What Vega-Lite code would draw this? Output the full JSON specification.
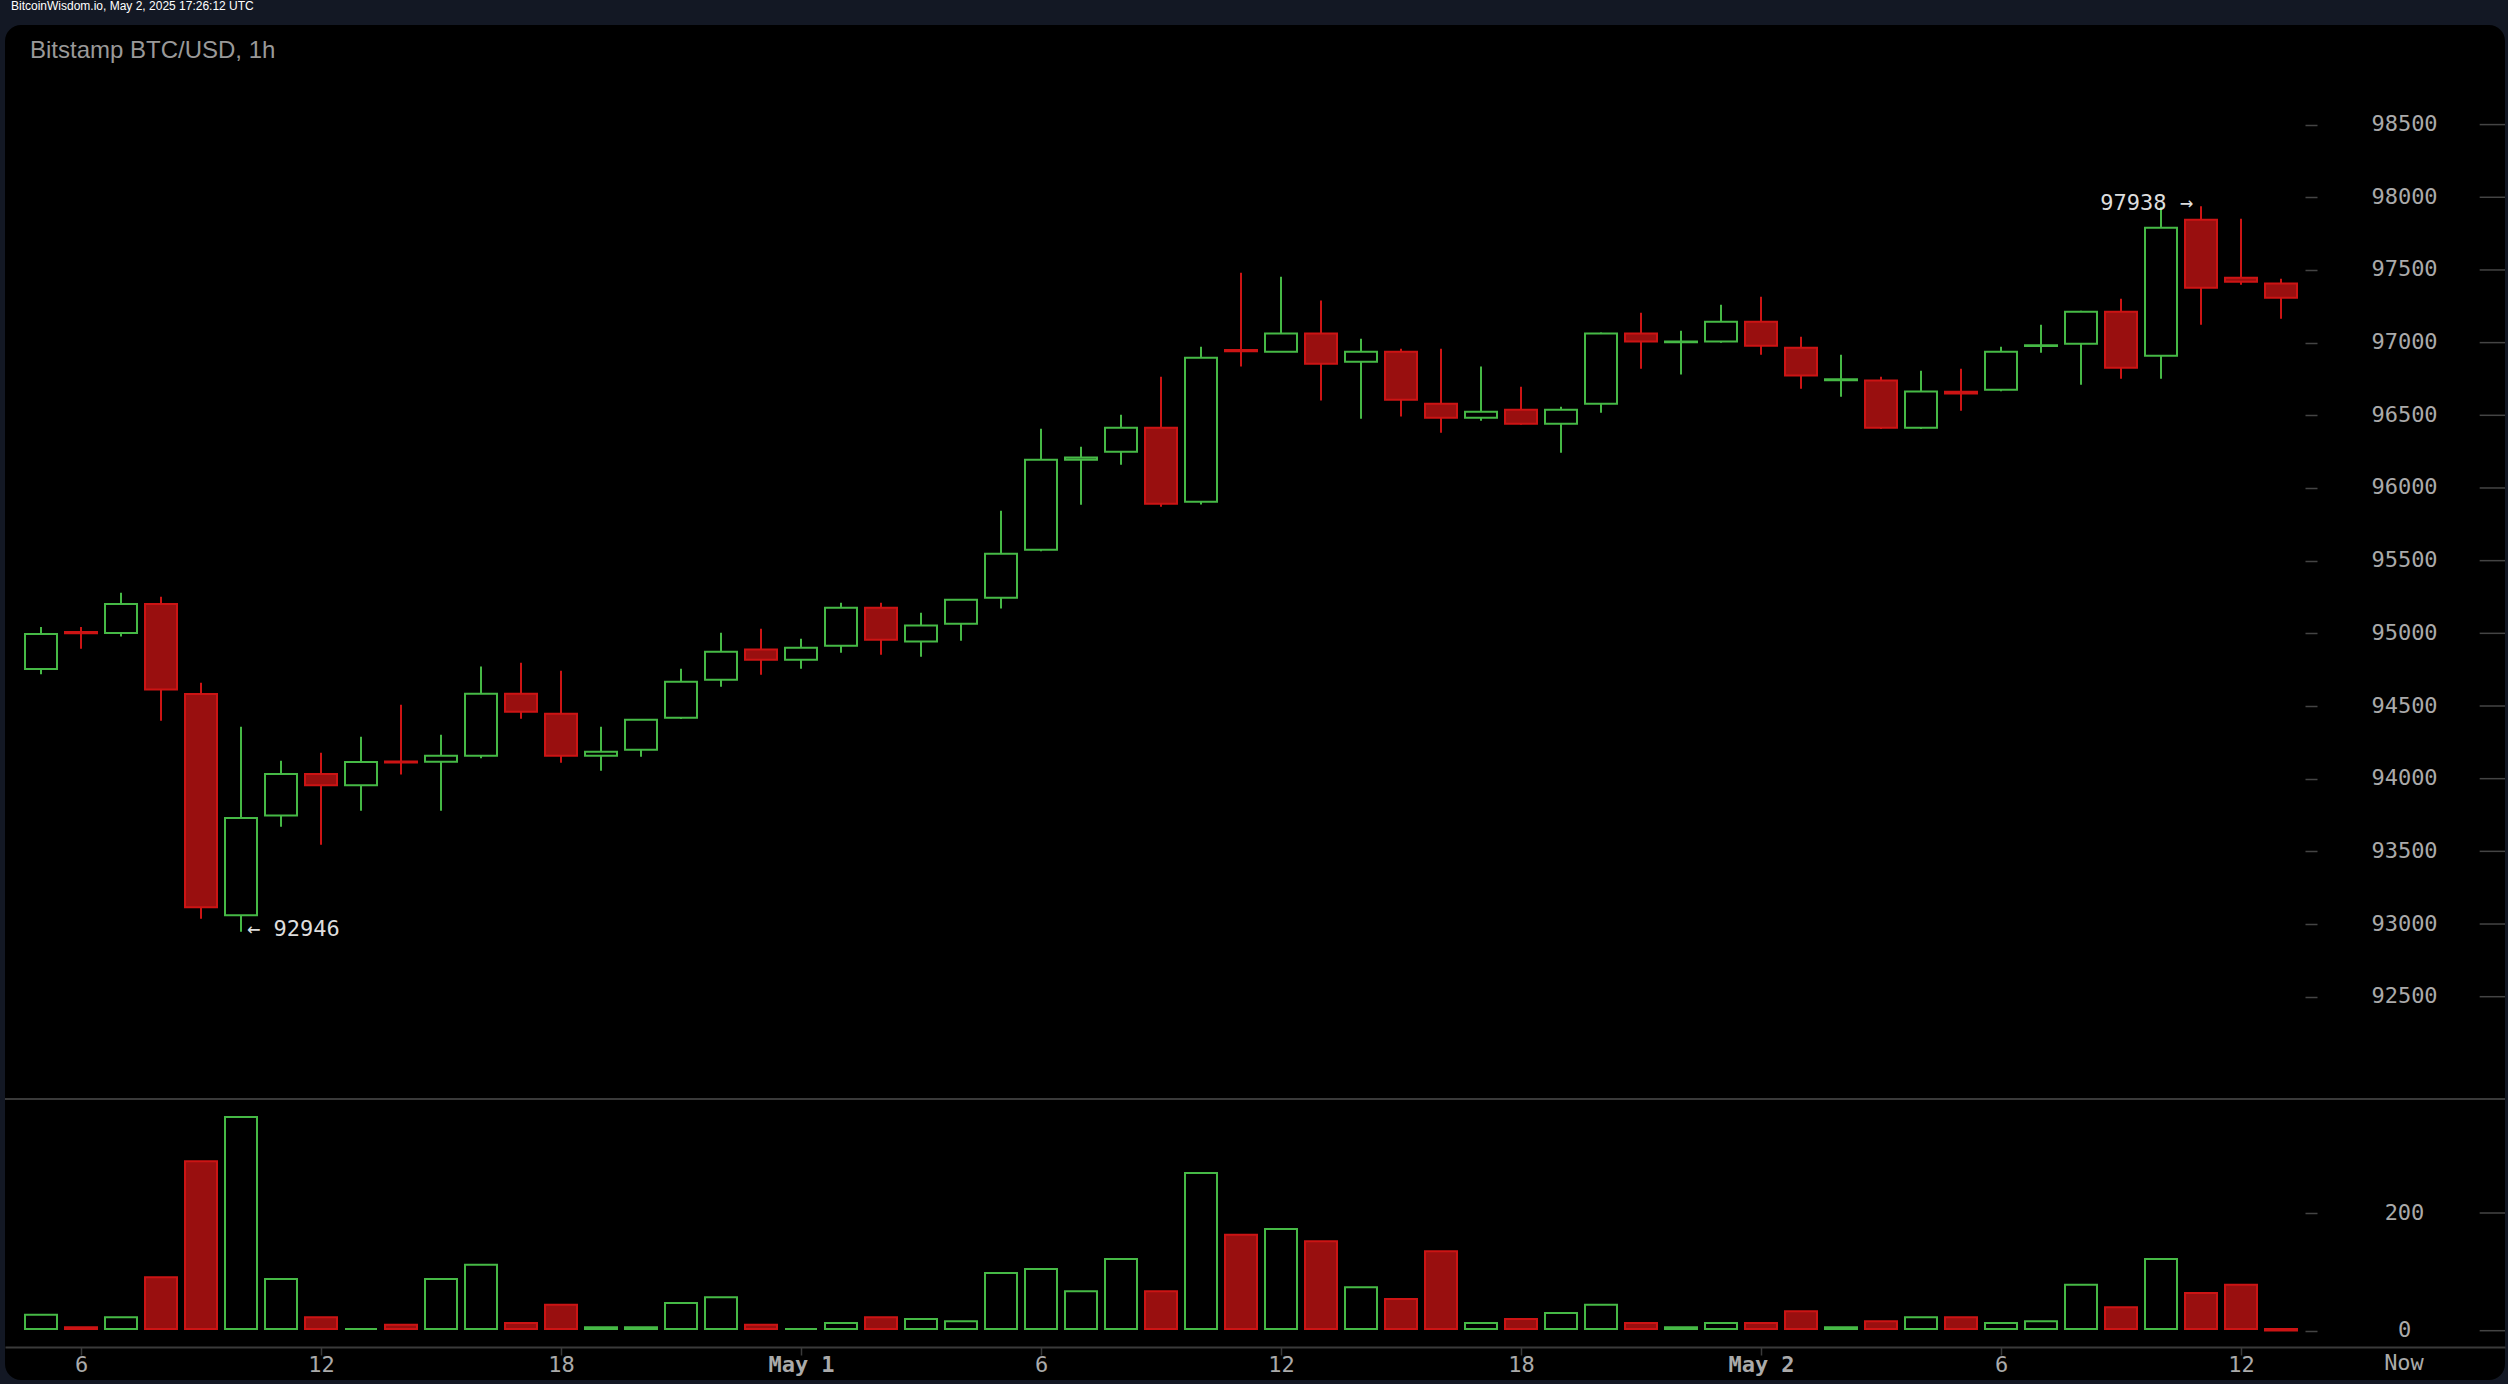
{
  "$schema": "https://vega.github.io/schema/vega-lite/v6.json",
  "width": 2500,
  "height": 1355,
  "padding": {"left": 4, "right": 4, "top": 0, "bottom": 4},
  "background": "#131824",
  "title": {
    "text": "BitcoinWisdom.io, May 2, 2025 17:26:12 UTC",
    "anchor": "start",
    "frame": "group",
    "font": "Liberation Sans",
    "fontSize": 12,
    "fontWeight": "normal",
    "color": "#ffffff",
    "dx": 6,
    "offset": 12
  },
  "view": {"fill": "#000000", "stroke": null, "cornerRadius": 16},
  "config": {"font": "DejaVu Sans Mono"},
  "datasets": {
    "candles": [
      {"t": "2025-04-30T05:00:00Z", "open": 94755, "high": 95044, "low": 94718, "close": 94996, "volume": 27, "dir": "up"},
      {"t": "2025-04-30T06:00:00Z", "open": 95009, "high": 95044, "low": 94894, "close": 95000, "volume": 6, "dir": "down"},
      {"t": "2025-04-30T07:00:00Z", "open": 95002, "high": 95280, "low": 94979, "close": 95202, "volume": 23, "dir": "up"},
      {"t": "2025-04-30T08:00:00Z", "open": 95202, "high": 95252, "low": 94399, "close": 94614, "volume": 91, "dir": "down"},
      {"t": "2025-04-30T09:00:00Z", "open": 94583, "high": 94660, "low": 93037, "close": 93115, "volume": 288, "dir": "down"},
      {"t": "2025-04-30T10:00:00Z", "open": 93060, "high": 94358, "low": 92946, "close": 93730, "volume": 363, "dir": "up"},
      {"t": "2025-04-30T11:00:00Z", "open": 93747, "high": 94124, "low": 93670, "close": 94032, "volume": 88, "dir": "up"},
      {"t": "2025-04-30T12:00:00Z", "open": 94032, "high": 94179, "low": 93546, "close": 93954, "volume": 23, "dir": "down"},
      {"t": "2025-04-30T13:00:00Z", "open": 93954, "high": 94289, "low": 93780, "close": 94115, "volume": 3, "dir": "up"},
      {"t": "2025-04-30T14:00:00Z", "open": 94118, "high": 94509, "low": 94028, "close": 94112, "volume": 10, "dir": "down"},
      {"t": "2025-04-30T15:00:00Z", "open": 94117, "high": 94303, "low": 93780, "close": 94158, "volume": 88, "dir": "up"},
      {"t": "2025-04-30T16:00:00Z", "open": 94158, "high": 94771, "low": 94140, "close": 94585, "volume": 112, "dir": "up"},
      {"t": "2025-04-30T17:00:00Z", "open": 94585, "high": 94798, "low": 94413, "close": 94461, "volume": 13, "dir": "down"},
      {"t": "2025-04-30T18:00:00Z", "open": 94447, "high": 94743, "low": 94110, "close": 94158, "volume": 44, "dir": "down"},
      {"t": "2025-04-30T19:00:00Z", "open": 94158, "high": 94358, "low": 94055, "close": 94186, "volume": 6, "dir": "up"},
      {"t": "2025-04-30T20:00:00Z", "open": 94199, "high": 94410, "low": 94151, "close": 94406, "volume": 6, "dir": "up"},
      {"t": "2025-04-30T21:00:00Z", "open": 94420, "high": 94757, "low": 94410, "close": 94667, "volume": 47, "dir": "up"},
      {"t": "2025-04-30T22:00:00Z", "open": 94681, "high": 95004, "low": 94633, "close": 94874, "volume": 57, "dir": "up"},
      {"t": "2025-04-30T23:00:00Z", "open": 94888, "high": 95032, "low": 94715, "close": 94819, "volume": 10, "dir": "down"},
      {"t": "2025-05-01T00:00:00Z", "open": 94819, "high": 94963, "low": 94757, "close": 94901, "volume": 3, "dir": "up"},
      {"t": "2025-05-01T01:00:00Z", "open": 94915, "high": 95211, "low": 94867, "close": 95176, "volume": 13, "dir": "up"},
      {"t": "2025-05-01T02:00:00Z", "open": 95176, "high": 95211, "low": 94853, "close": 94956, "volume": 23, "dir": "down"},
      {"t": "2025-05-01T03:00:00Z", "open": 94943, "high": 95142, "low": 94839, "close": 95053, "volume": 20, "dir": "up"},
      {"t": "2025-05-01T04:00:00Z", "open": 95066, "high": 95235, "low": 94949, "close": 95231, "volume": 16, "dir": "up"},
      {"t": "2025-05-01T05:00:00Z", "open": 95245, "high": 95844, "low": 95170, "close": 95548, "volume": 98, "dir": "up"},
      {"t": "2025-05-01T06:00:00Z", "open": 95575, "high": 96408, "low": 95565, "close": 96195, "volume": 105, "dir": "up"},
      {"t": "2025-05-01T07:00:00Z", "open": 96195, "high": 96284, "low": 95885, "close": 96209, "volume": 67, "dir": "up"},
      {"t": "2025-05-01T08:00:00Z", "open": 96250, "high": 96504, "low": 96160, "close": 96415, "volume": 122, "dir": "up"},
      {"t": "2025-05-01T09:00:00Z", "open": 96415, "high": 96766, "low": 95871, "close": 95892, "volume": 67, "dir": "down"},
      {"t": "2025-05-01T10:00:00Z", "open": 95906, "high": 96972, "low": 95886, "close": 96896, "volume": 268, "dir": "up"},
      {"t": "2025-05-01T11:00:00Z", "open": 96950, "high": 97481, "low": 96835, "close": 96940, "volume": 163, "dir": "down"},
      {"t": "2025-05-01T12:00:00Z", "open": 96938, "high": 97454, "low": 96935, "close": 97062, "volume": 173, "dir": "up"},
      {"t": "2025-05-01T13:00:00Z", "open": 97062, "high": 97289, "low": 96601, "close": 96855, "volume": 152, "dir": "down"},
      {"t": "2025-05-01T14:00:00Z", "open": 96869, "high": 97027, "low": 96477, "close": 96938, "volume": 74, "dir": "up"},
      {"t": "2025-05-01T15:00:00Z", "open": 96938, "high": 96958, "low": 96491, "close": 96607, "volume": 54, "dir": "down"},
      {"t": "2025-05-01T16:00:00Z", "open": 96580, "high": 96958, "low": 96380, "close": 96484, "volume": 135, "dir": "down"},
      {"t": "2025-05-01T17:00:00Z", "open": 96484, "high": 96835, "low": 96463, "close": 96525, "volume": 13, "dir": "up"},
      {"t": "2025-05-01T18:00:00Z", "open": 96539, "high": 96697, "low": 96435, "close": 96442, "volume": 20, "dir": "down"},
      {"t": "2025-05-01T19:00:00Z", "open": 96442, "high": 96559, "low": 96243, "close": 96539, "volume": 30, "dir": "up"},
      {"t": "2025-05-01T20:00:00Z", "open": 96580, "high": 97070, "low": 96518, "close": 97062, "volume": 44, "dir": "up"},
      {"t": "2025-05-01T21:00:00Z", "open": 97062, "high": 97206, "low": 96821, "close": 97007, "volume": 13, "dir": "down"},
      {"t": "2025-05-01T22:00:00Z", "open": 97003, "high": 97082, "low": 96780, "close": 97007, "volume": 6, "dir": "up"},
      {"t": "2025-05-01T23:00:00Z", "open": 97007, "high": 97261, "low": 97000, "close": 97144, "volume": 13, "dir": "up"},
      {"t": "2025-05-02T00:00:00Z", "open": 97144, "high": 97316, "low": 96917, "close": 96979, "volume": 13, "dir": "down"},
      {"t": "2025-05-02T01:00:00Z", "open": 96965, "high": 97041, "low": 96683, "close": 96773, "volume": 33, "dir": "down"},
      {"t": "2025-05-02T02:00:00Z", "open": 96742, "high": 96917, "low": 96628, "close": 96748, "volume": 6, "dir": "up"},
      {"t": "2025-05-02T03:00:00Z", "open": 96740, "high": 96766, "low": 96405, "close": 96415, "volume": 16, "dir": "down"},
      {"t": "2025-05-02T04:00:00Z", "open": 96415, "high": 96807, "low": 96405, "close": 96663, "volume": 23, "dir": "up"},
      {"t": "2025-05-02T05:00:00Z", "open": 96662, "high": 96821, "low": 96532, "close": 96650, "volume": 23, "dir": "down"},
      {"t": "2025-05-02T06:00:00Z", "open": 96676, "high": 96972, "low": 96665, "close": 96938, "volume": 13, "dir": "up"},
      {"t": "2025-05-02T07:00:00Z", "open": 96976, "high": 97123, "low": 96931, "close": 96982, "volume": 16, "dir": "up"},
      {"t": "2025-05-02T08:00:00Z", "open": 96993, "high": 97220, "low": 96711, "close": 97213, "volume": 78, "dir": "up"},
      {"t": "2025-05-02T09:00:00Z", "open": 97213, "high": 97302, "low": 96752, "close": 96828, "volume": 40, "dir": "down"},
      {"t": "2025-05-02T10:00:00Z", "open": 96910, "high": 97933, "low": 96752, "close": 97791, "volume": 122, "dir": "up"},
      {"t": "2025-05-02T11:00:00Z", "open": 97846, "high": 97938, "low": 97123, "close": 97378, "volume": 64, "dir": "down"},
      {"t": "2025-05-02T12:00:00Z", "open": 97447, "high": 97853, "low": 97399, "close": 97419, "volume": 78, "dir": "down"},
      {"t": "2025-05-02T13:00:00Z", "open": 97406, "high": 97440, "low": 97165, "close": 97309, "volume": 0.5, "dir": "down"}
    ]
  },
  "layer": [
    {
      "encoding": {
        "y": {
          "type": "quantitative",
          "scale": {"domain": [92500, 98500], "range": [971.7, 99.6], "nice": false, "zero": false},
          "axis": {
            "title": null,
            "orient": "right",
            "offset": -200,
            "grid": false,
            "domain": false,
            "values": [92500, 93000, 93500, 94000, 94500, 95000, 95500, 96000, 96500, 97000, 97500, 98000, 98500],
            "format": "d",
            "tickColor": "#444444",
            "tickWidth": 1.5,
            "tickSize": 12,
            "labelColor": "#aaaaaa",
            "labelFontSize": 22,
            "labelAlign": "center",
            "labelBaseline": "middle",
            "labelPadding": 87,
            "labelOffset": -1
          }
        }
      },
      "layer": [
        {
          "data": {"name": "candles"},
          "mark": {"type": "rule", "strokeWidth": 2},
          "encoding": {
            "x": {
              "field": "t",
              "type": "temporal",
              "scale": {"type": "utc", "domain": [1745985960000, 1746210960000], "nice": false, "padding": 0},
              "axis": {
                "title": null,
                "orient": "bottom",
                "offset": -33,
                "grid": false,
                "domainColor": "#3a3a3a",
                "domainWidth": 2,
                "tickColor": "#3a3a3a",
                "tickWidth": 1.5,
                "tickSize": 8,
                "labelColor": "#aaaaaa",
                "labelFontSize": 22,
                "labelPadding": -1,
                "labelBaseline": "top",
                "labelFontWeight": {"expr": "utchours(datum.value) == 0 ? 'bold' : 'normal'"},
                "labelOverlap": false,
                "labelFlush": false,
                "values": [1745992800000, 1746014400000, 1746036000000, 1746057600000, 1746079200000, 1746100800000, 1746122400000, 1746144000000, 1746165600000, 1746187200000],
                "labelExpr": "utchours(datum.value) == 0 ? utcFormat(datum.value, '%b ') + utcdate(datum.value) : utchours(datum.value)"
              }
            },
            "y": {"field": "low"},
            "y2": {"field": "high"},
            "stroke": {"field": "dir", "type": "nominal", "legend": null, "scale": {"domain": ["up", "down"], "range": ["#46b946", "#cc1414"]}}
          }
        },
        {
          "data": {"name": "candles"},
          "mark": {"type": "bar", "size": 32, "strokeWidth": 2},
          "encoding": {
            "x": {"field": "t", "type": "temporal", "scale": {"type": "utc", "nice": false, "padding": 0}},
            "y": {"field": "open"},
            "y2": {"field": "close"},
            "fill": {"field": "dir", "type": "nominal", "legend": null, "scale": {"domain": ["up", "down"], "range": ["#000000", "#990f0f"]}},
            "stroke": {"field": "dir", "type": "nominal", "legend": null, "scale": {"domain": ["up", "down"], "range": ["#46b946", "#cc1414"]}}
          }
        },
        {
          "data": {"values": [{"price": 92500}, {"price": 93000}, {"price": 93500}, {"price": 94000}, {"price": 94500}, {"price": 95000}, {"price": 95500}, {"price": 96000}, {"price": 96500}, {"price": 97000}, {"price": 97500}, {"price": 98000}, {"price": 98500}]},
          "mark": {"type": "rule", "color": "#444444", "strokeWidth": 1.5},
          "encoding": {
            "y": {"field": "price"},
            "x": {"datum": 1746208680000, "type": "temporal", "scale": {"type": "utc", "nice": false, "padding": 0}},
            "x2": {"datum": 1746210960000}
          }
        },
        {
          "data": {"values": [{"t": "2025-04-30T10:00:00Z", "price": 92946, "label": "← 92946"}]},
          "mark": {"type": "text", "align": "left", "baseline": "middle", "dx": 6, "dy": -3, "fontSize": 22, "color": "#dddddd"},
          "encoding": {"x": {"field": "t", "type": "temporal", "scale": {"type": "utc", "nice": false, "padding": 0}}, "y": {"field": "price"}, "text": {"field": "label"}}
        },
        {
          "data": {"values": [{"t": "2025-05-02T11:00:00Z", "price": 97938, "label": "97938 →"}]},
          "mark": {"type": "text", "align": "right", "baseline": "middle", "dx": -8, "dy": -3, "fontSize": 22, "color": "#dddddd"},
          "encoding": {"x": {"field": "t", "type": "temporal", "scale": {"type": "utc", "nice": false, "padding": 0}}, "y": {"field": "price"}, "text": {"field": "label"}}
        },
        {
          "data": {"values": [{"t": "2025-04-30T04:43:30Z", "price": 99009, "label": "Bitstamp BTC/USD, 1h"}]},
          "mark": {"type": "text", "align": "left", "baseline": "middle", "font": "Liberation Sans", "fontSize": 24, "color": "#999999"},
          "encoding": {"x": {"field": "t", "type": "temporal", "scale": {"type": "utc", "nice": false, "padding": 0}}, "y": {"field": "price"}, "text": {"field": "label"}}
        }
      ]
    },
    {
      "encoding": {
        "y": {
          "type": "quantitative",
          "scale": {"domain": [0, 400], "range": [1305.7, 1070.3], "nice": false},
          "axis": {
            "title": null,
            "orient": "right",
            "offset": -200,
            "grid": false,
            "domain": false,
            "values": [0, 200],
            "tickColor": "#444444",
            "tickWidth": 1.5,
            "tickSize": 12,
            "labelColor": "#aaaaaa",
            "labelFontSize": 22,
            "labelAlign": "center",
            "labelBaseline": "middle",
            "labelPadding": 87,
            "labelOffset": -1
          }
        }
      },
      "layer": [
        {
          "data": {"values": [{"line": 393.7}]},
          "mark": {"type": "rule", "color": "#3a3a3a", "strokeWidth": 2},
          "encoding": {"y": {"field": "line"}}
        },
        {
          "data": {"name": "candles"},
          "mark": {"type": "bar", "size": 32, "strokeWidth": 2},
          "encoding": {
            "x": {"field": "t", "type": "temporal", "scale": {"type": "utc", "nice": false, "padding": 0}},
            "y": {"field": "volume", "stack": null},
            "y2": {"datum": 3},
            "fill": {"field": "dir", "type": "nominal", "legend": null, "scale": {"domain": ["up", "down"], "range": ["#000000", "#990f0f"]}},
            "stroke": {"field": "dir", "type": "nominal", "legend": null, "scale": {"domain": ["up", "down"], "range": ["#46b946", "#cc1414"]}}
          }
        },
        {
          "data": {"values": [{"tick": 0}, {"tick": 200}]},
          "mark": {"type": "rule", "color": "#444444", "strokeWidth": 1.5},
          "encoding": {
            "y": {"field": "tick"},
            "x": {"datum": 1746208680000, "type": "temporal", "scale": {"type": "utc", "nice": false, "padding": 0}},
            "x2": {"datum": 1746210960000}
          }
        },
        {
          "data": {"values": [{"t": "2025-05-02T16:04:30Z", "volume": -55, "label": "Now"}]},
          "mark": {"type": "text", "align": "center", "baseline": "middle", "fontSize": 22, "color": "#aaaaaa"},
          "encoding": {"x": {"field": "t", "type": "temporal", "scale": {"type": "utc", "nice": false, "padding": 0}}, "y": {"field": "volume"}, "text": {"field": "label"}}
        }
      ]
    }
  ],
  "resolve": {"scale": {"y": "independent"}, "axis": {"y": "independent"}}
}
